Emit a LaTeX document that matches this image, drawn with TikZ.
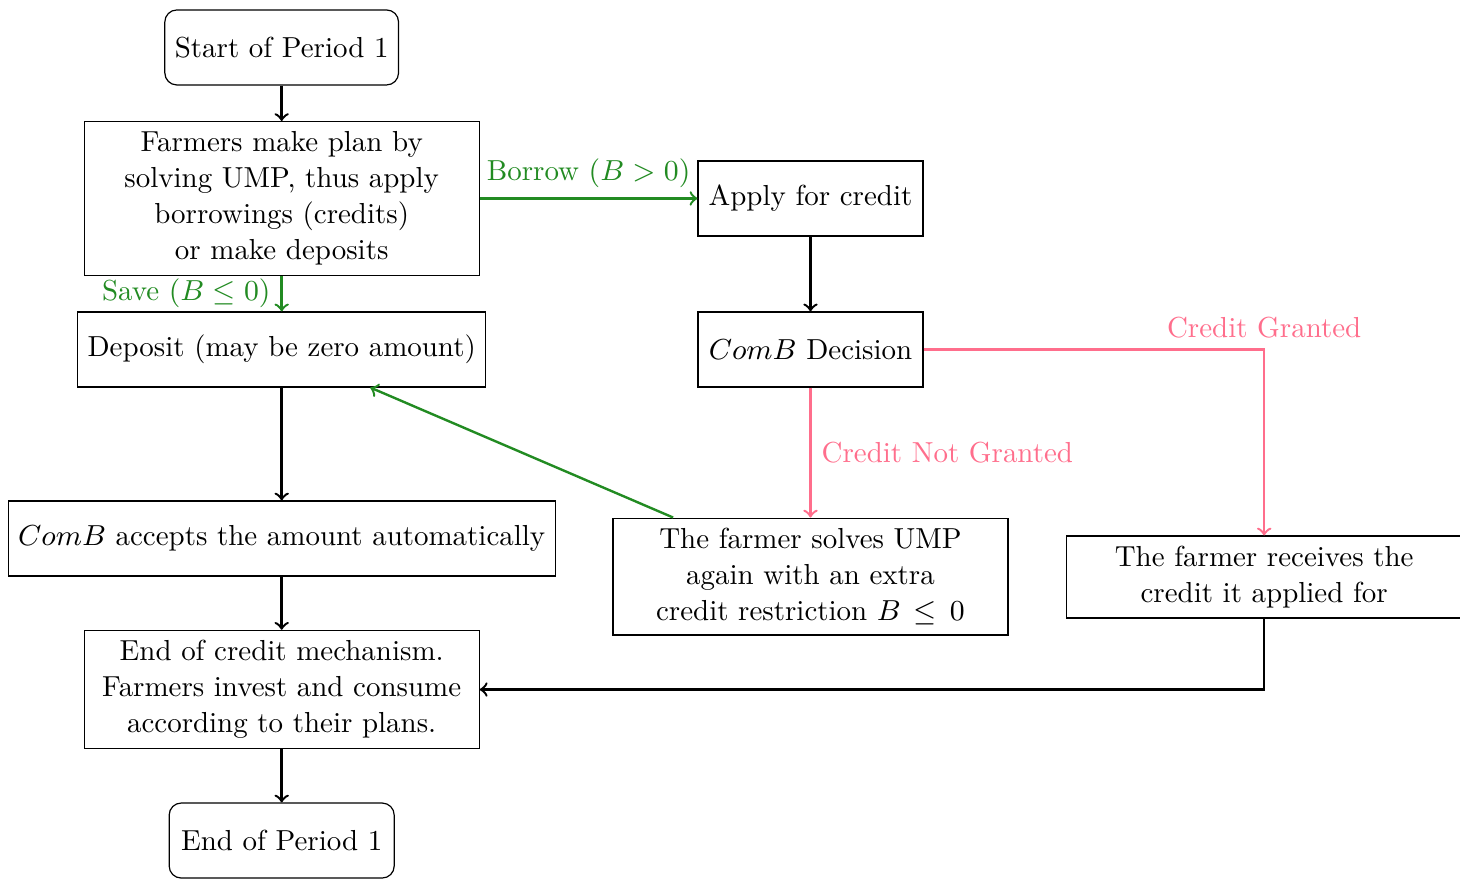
\RequirePackage{fix-cm}
\documentclass[tikz,border=0pt]{standalone}
\usepackage{amsmath}
\definecolor{savegreen}{RGB}{34,139,34}
\definecolor{creditpink}{RGB}{255,110,140}

\begin{document}
\begin{tikzpicture}[>=to,
                    every node/.append style={font=\fontsize{9.65}{12}\selectfont}]
% style of boxes and arrows
\tikzset{boxstyle/.style={draw,align=center,minimum height=25pt,minimum width=75pt},
         roundbox/.style={boxstyle,rounded corners},
         widebox/.style={boxstyle,text width=125pt},
         flow/.style={->,thick}}
\useasboundingbox (0,0) rectangle (17.104,-10.286);
% left column
\node[roundbox] (start)     at (3.3,-0.556) {Start of Period 1};
\node[widebox]  (plan)      at (3.3,-2.325) {Farmers make plan by\\ solving UMP, thus apply\\ borrowings (credits)\\ or make deposits};
\node[boxstyle] (deposit)   at (3.3,-4.094) {Deposit (may be zero amount)};
\node[boxstyle] (accept)    at (3.3,-6.309) {$ComB$ accepts the amount automatically};
\node[widebox]  (endcredit) at (3.3,-8.078) {End of credit mechanism.\\ Farmers invest and consume\\ according to their plans.};
\node[roundbox] (endperiod) at (3.3,-9.847) {End of Period 1};
% middle column
\node[boxstyle] (apply)     at (9.495,-2.325) {Apply for credit};
\node[boxstyle] (decision)  at (9.495,-4.094) {$ComB$ Decision};
\node[widebox]  (solve)     at (9.495,-6.754) {The farmer solves UMP\\ again with an extra\\ credit restriction $B \leq 0$};
% right column
\node[widebox]  (receive)   at (14.81,-6.76) {The farmer receives the\\ credit it applied for};
% arrows
\draw[flow] (start) -- (plan);
\draw[flow,savegreen] (plan) -- node[left] {Save $(B\leq 0)$} (deposit);
\draw[flow,savegreen] (plan) -- node[above] {Borrow $(B>0)$} (apply);
\draw[flow] (apply) -- (decision);
\draw[flow] (deposit) -- (accept);
\draw[flow] (accept) -- (endcredit);
\draw[flow] (endcredit) -- (endperiod);
\draw[flow,creditpink] (decision) -| node[above] {Credit Granted} (receive);
\draw[flow,creditpink] (decision) -- node[right] {Credit Not Granted} (solve);
\draw[flow,savegreen] (solve) -- (deposit);
\draw[flow] (receive) |- (endcredit);
\end{tikzpicture}
\end{document}
